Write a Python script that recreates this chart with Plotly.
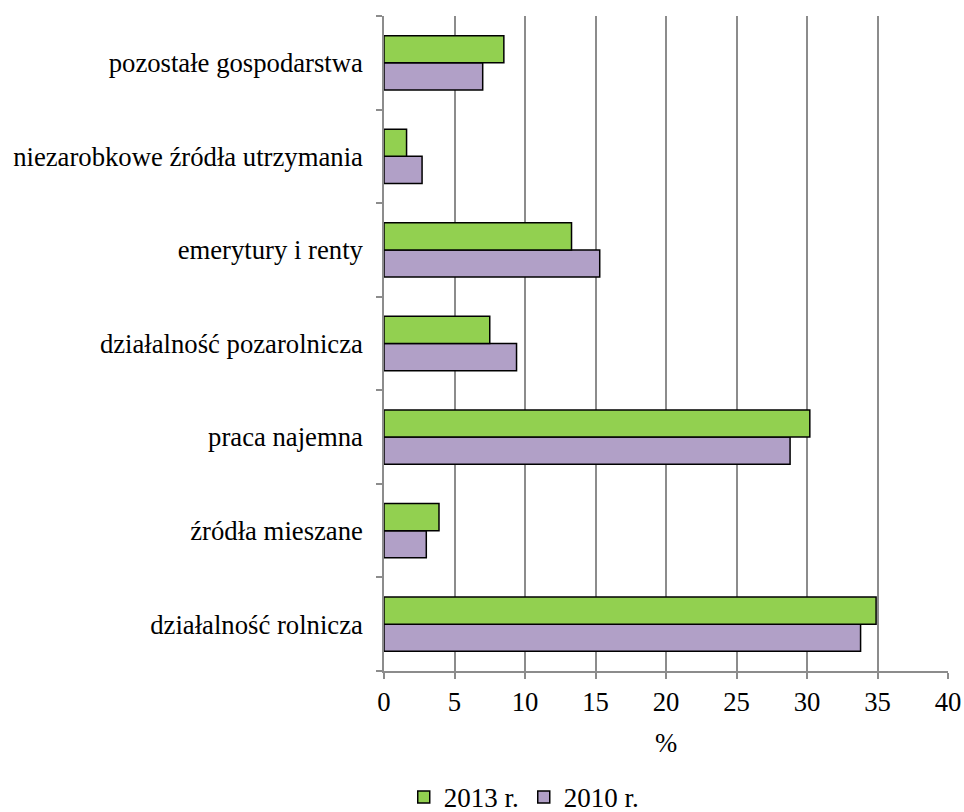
import plotly.graph_objects as go

categories = ["działalność rolnicza", "źródła mieszane", "praca najemna",
              "działalność pozarolnicza", "emerytury i renty",
              "niezarobkowe źródła utrzymania", "pozostałe gospodarstwa"]
values_2013 = [34.9, 3.9, 30.2, 7.5, 13.3, 1.6, 8.5]
values_2010 = [33.8, 3.0, 28.8, 9.4, 15.3, 2.7, 7.0]
x_ticks = [0, 5, 10, 15, 20, 25, 30, 35, 40]

FONT = "Times New Roman"
FS = 26.7


def f(size=FS):
    return dict(family=FONT, size=size, color="black")


fig = go.Figure()
fig.add_trace(go.Bar(y=categories, x=values_2010, name="2010 r.", orientation="h",
                     marker=dict(color="#B1A0C7", line=dict(color="black", width=1.5))))
fig.add_trace(go.Bar(y=categories, x=values_2013, name="2013 r.", orientation="h",
                     marker=dict(color="#92D050", line=dict(color="black", width=1.5))))

fig.update_layout(
    template="none",
    width=964, height=812,
    margin=dict(l=384, r=16, t=16, b=141, autoexpand=False),
    paper_bgcolor="white", plot_bgcolor="white",
    barmode="group", bargap=0.42, bargroupgap=0,
    showlegend=True,
    legend=dict(orientation="h", x=0.035, xanchor="left", y=-0.193, yanchor="middle",
                traceorder="reversed", itemwidth=30, font=f(27)),
    xaxis=dict(range=[0, 40], tickvals=x_ticks, showgrid=True, gridcolor="#8c8c8c",
               gridwidth=1.5, showline=True, linecolor="#8c8c8c", linewidth=1.5,
               ticks="outside", ticklen=6, tickcolor="#8c8c8c", tickwidth=1.5,
               zeroline=False, automargin=False,
               title=dict(text="%", standoff=18, font=f()),
               tickfont=f()),
    yaxis=dict(categoryorder="array", categoryarray=categories, showgrid=False,
               showline=True, linecolor="#8c8c8c", linewidth=1.5, automargin=False,
               ticks="outside", ticklen=6, tickcolor="#8c8c8c", tickwidth=1.5,
               tickson="boundaries", ticklabelstandoff=14, tickfont=f()),
)

fig.write_html("out.html", config={"displayModeBar": False},
               post_script="document.body.style.margin='0';")
